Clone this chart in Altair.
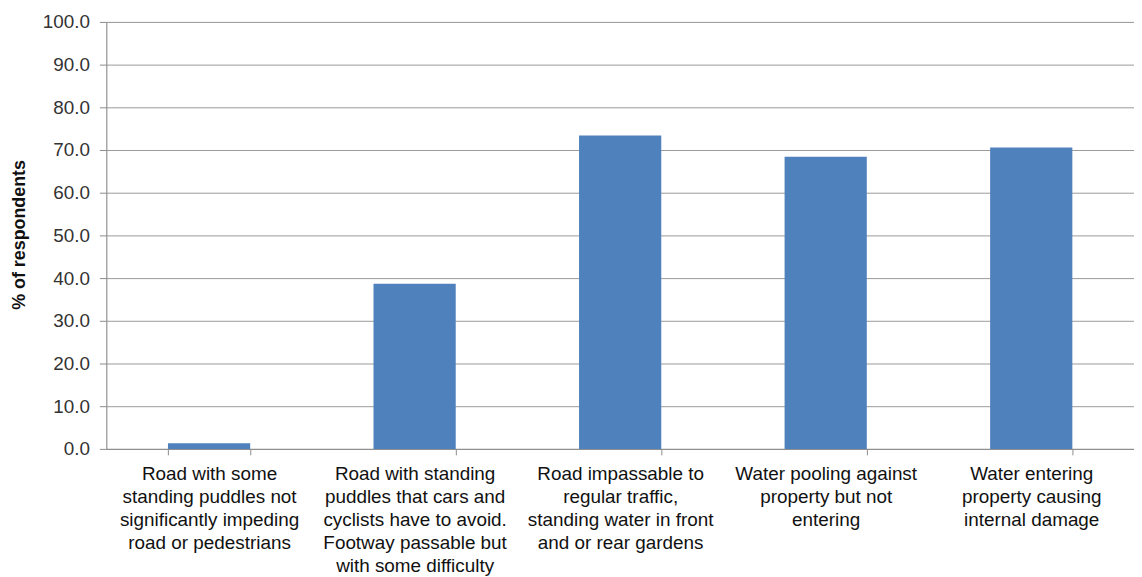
import altair as alt
import pandas as pd

categories = [
    "Road with some|standing puddles not|significantly impeding|road or pedestrians",
    "Road with standing|puddles that cars and|cyclists have to avoid.|Footway passable but|with some difficulty",
    "Road impassable to|regular traffic,|standing water in front|and or rear gardens",
    "Water pooling against|property but not|entering",
    "Water entering|property causing|internal damage",
]
values = [1.3, 38.7, 73.4, 68.4, 70.6]
y_ticks = [0, 10, 20, 30, 40, 50, 60, 70, 80, 90, 100]

df = pd.DataFrame({"category": categories, "pct": values})

FONT = "Liberation Sans"

chart = (
    alt.Chart(df)
    .mark_bar(color="#4F81BD")
    .encode(
        x=alt.X(
            "category:N",
            sort=categories,
            title=None,
            scale=alt.Scale(paddingInner=0.6, paddingOuter=0.3),
            axis=alt.Axis(
                labelAngle=0,
                labelExpr="split(datum.label, '|')",
                labelFont=FONT,
                labelFontSize=19,
                labelColor="#111111",
                labelLineHeight=23,
                labelBaseline="top",
                labelPadding=10,
                labelLimit=300,
                tickBand="extent",
                tickSize=6,
                tickColor="#8c8c8c",
                domainColor="#8c8c8c",
                grid=False,
            ),
        ),
        y=alt.Y(
            "pct:Q",
            scale=alt.Scale(domain=[0, 100], nice=False),
            axis=alt.Axis(
                values=y_ticks,
                format=".1f",
                title="% of respondents",
                titleFont=FONT,
                titleFontSize=18,
                titleFontWeight="bold",
                titleColor="#111111",
                titleX=-87,
                titleY=214,
                titleAngle=-90,
                titleAlign="center",
                titleBaseline="middle",
                labelFont=FONT,
                labelFontSize=19,
                labelColor="#333333",
                labelPadding=10,
                tickSize=7,
                tickColor="#8c8c8c",
                domainColor="#8c8c8c",
                gridColor="#9a9a9a",
                gridOpacity=1,
            ),
        ),
    )
    .properties(
        width=1035,
        height=430,
        autosize=alt.AutoSizeParams(type="none"),
        padding={"left": 99, "top": 12, "right": 0, "bottom": 127},
    )
    .configure_view(stroke=None)
    .configure(background="white")
)

chart.save("out.html", embed_options={"renderer": "svg", "actions": False})
